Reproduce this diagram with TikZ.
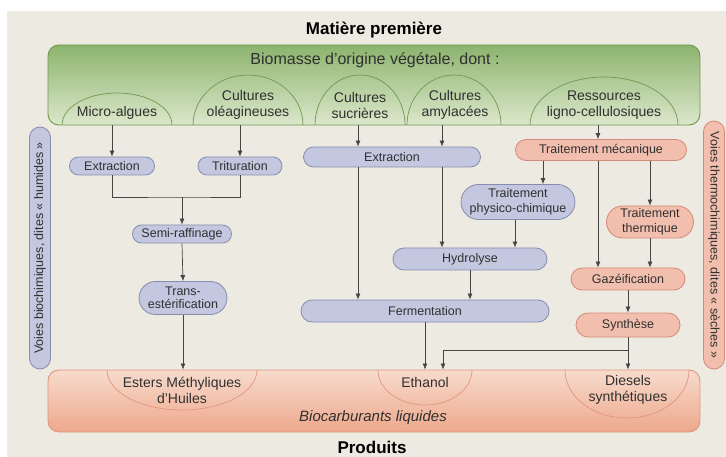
\documentclass[tikz,border=0pt]{standalone}
\usepackage{fontspec}
\setmainfont{Liberation Sans}
\usetikzlibrary{shapes.misc,arrows.meta}
\definecolor{bgc}{HTML}{EDEAE1}
\definecolor{gtop}{HTML}{8CB46E}
\definecolor{gbot}{HTML}{DCE7CB}
\definecolor{gline}{HTML}{6E9A4E}
\definecolor{ptop}{HTML}{F7DBCC}
\definecolor{pbot}{HTML}{EEA88C}
\definecolor{pline}{HTML}{E0967C}
\definecolor{lavf}{HTML}{C3C7DF}
\definecolor{lavd}{HTML}{868CAE}
\definecolor{salf}{HTML}{F2BFAE}
\definecolor{sald}{HTML}{D48A78}
\definecolor{txt}{HTML}{303030}
\definecolor{arrc}{HTML}{454545}
\tikzset{
 lav/.style={rounded rectangle, draw=lavd, fill=lavf, line width=0.8pt, text=txt,
   font=\fontsize{12.5}{14}\selectfont, align=center, inner sep=1pt},
 sal/.style={lav, draw=sald, fill=salf},
 arr/.style={draw=arrc, line width=0.7pt, -{Latex[length=6pt,width=5pt]}},
 ln/.style={draw=arrc, line width=0.7pt},
 domeg/.style={draw=gline, line width=0.7pt},
 domep/.style={draw=pline, line width=0.7pt},
 dlab/.style={text=txt, font=\fontsize{14}{16}\selectfont, align=center, inner sep=0pt},
 sidepill/.style={rounded rectangle, line width=0.8pt, text=txt, inner sep=1pt,
   font=\fontsize{12.5}{14}\selectfont, minimum height=21pt},
}
\begin{document}
\begin{tikzpicture}[x=1pt,y=-1pt]
\useasboundingbox (0,0) rectangle (726,457);
\fill[white] (0,0) rectangle (726,457);
\fill[bgc] (7,11) rectangle (726,457);

% titles
\node[font=\fontsize{17}{19}\selectfont\bfseries] (title) at (374,30) {Matière première};
\node[font=\fontsize{17}{19}\selectfont\bfseries] (produits) at (372,447) {Produits};

% green box
\node[draw=gline, line width=0.9pt, rounded corners=11pt, top color=gtop, bottom color=gbot,
      minimum width=652pt, minimum height=80pt, inner sep=0pt] (bio) at (374,85) {};
\node[text=txt, font=\fontsize{16}{18}\selectfont] (biolab) at (375,60) {Biomasse d'origine végétale, dont :};

\draw[domeg] (62,125) arc[start angle=180, end angle=360, x radius=55, y radius=32];
\draw[domeg] (193,125) arc[start angle=180, end angle=360, x radius=55, y radius=50];
\draw[domeg] (315,125) arc[start angle=180, end angle=360, x radius=45, y radius=50];
\draw[domeg] (407,125) arc[start angle=180, end angle=360, x radius=47, y radius=50];
\draw[domeg] (530,125) arc[start angle=180, end angle=360, x radius=74, y radius=48];

\node[dlab] (ma) at (117,113) {Micro-algues};
\node[dlab] (ol) at (248,105) {Cultures\\oléagineuses};
\node[dlab] (su) at (360,105) {Cultures\\sucrières};
\node[dlab] (am) at (455,105) {Cultures\\amylacées};
\node[dlab] (lc) at (604,105) {Ressources\\ligno-cellulosiques};

% product box
\node[draw=pline, line width=0.9pt, rounded corners=11pt, top color=ptop, bottom color=pbot,
      minimum width=652pt, minimum height=62pt, inner sep=0pt] (prod) at (374,401) {};
\draw[domep] (107,370) arc[start angle=180, end angle=0, x radius=75, y radius=40];
\draw[domep] (378,370) arc[start angle=180, end angle=0, x radius=47, y radius=35];
\draw[domep] (565,370) arc[start angle=180, end angle=0, x radius=62, y radius=48];
\node[dlab] (es) at (182,390) {Esters Méthyliques\\d'Huiles};
\node[dlab] (eth) at (425,382) {Ethanol};
\node[dlab] (die) at (628,390) {Diesels\\synthétiques};
\node[text=txt, font=\fontsize{15}{17}\selectfont\itshape] (bcl) at (373,418) {Biocarburants liquides};

% side pills
\node[sidepill, rotate=90, draw=lavd, fill=lavf, minimum width=244pt] (vbio) at (40,248)
  {Voies biochimiques, dites «~humides~»};
\node[sidepill, rotate=-90, draw=sald, fill=salf, minimum width=250pt] (vthe) at (714,245)
  {Voies thermochimiques, dites «~sèches~»};

% process nodes
\node[lav, minimum width=87pt, minimum height=18pt] (ex1) at (112,166) {Extraction};
\node[lav, minimum width=86pt, minimum height=18pt] (tri) at (240,166) {Trituration};
\node[lav, minimum width=101pt, minimum height=18pt] (semi) at (182,234) {Semi-raffinage};
\node[lav, minimum width=90pt, minimum height=33pt, font=\fontsize{12.5}{13}\selectfont] (trans) at (183,298) {Trans-\\estérification};
\node[lav, minimum width=179pt, minimum height=20pt] (ex2) at (392,157) {Extraction};
\node[lav, minimum width=156pt, minimum height=22pt] (hyd) at (470,259) {Hydrolyse};
\node[lav, minimum width=250pt, minimum height=22pt] (ferm) at (425,311) {Fermentation};
\node[lav, minimum width=116pt, minimum height=35pt, font=\fontsize{12.5}{15}\selectfont] (tpc) at (518,202) {Traitement\\physico-chimique};
\node[sal, minimum width=173pt, minimum height=21pt] (tm) at (601,150) {Traitement mécanique};
\node[sal, minimum width=89pt, minimum height=32pt, font=\fontsize{12.5}{15}\selectfont] (tt) at (650,222) {Traitement\\thermique};
\node[sal, minimum width=116pt, minimum height=22pt] (gaz) at (628,279) {Gazéification};
\node[sal, minimum width=106pt, minimum height=24pt] (syn) at (628,325) {Synthèse};

% junction coordinates
\coordinate (j1) at (182,197);
\coordinate (xsu) at (358,0);
\coordinate (xam) at (442,0);
\coordinate (xlc) at (598,0);
\coordinate (xtpc) at (543,0);
\coordinate (xhy) at (515,0);
\coordinate (j2) at (628,350);
\coordinate (xeth) at (443,0);

% connectors left column
\draw[arr] (bio.south -| ex1.north) -- (ex1.north);
\draw[arr] (bio.south -| tri.north) -- (tri.north);
\draw[ln] (ex1.south) |- (j1) -| (tri.south);
\draw[arr] (j1) -- (semi.north);
\draw[arr] (semi.south) -- (trans.north);
\draw[arr] (trans.south) -- (prod.north -| trans.south);

% middle column
\draw[arr] (bio.south -| xsu) -- (ex2.north -| xsu);
\draw[arr] (bio.south -| xam) -- (ex2.north -| xam);
\draw[arr] (ex2.south -| xsu) -- (ferm.north -| xsu);
\draw[arr] (ex2.south -| xam) -- (hyd.north -| xam);
\draw[arr] (hyd.south) -- (ferm.north -| hyd.south);
\draw[arr] (ferm.south) -- (prod.north -| ferm.south);

% right column
\draw[arr] (bio.south -| xlc) -- (tm.north -| xlc);
\draw[arr] (tm.south -| xtpc) -- (tpc.north -| xtpc);
\draw[arr] (tpc.south -| xhy) -- (hyd.north -| xhy);
\draw[arr] (tm.south -| xlc) -- (gaz.north -| xlc);
\draw[arr] (tm.south -| tt.north) -- (tt.north);
\draw[arr] (tt.south) -- (gaz.north -| tt.south);
\draw[arr] (gaz.south) -- (syn.north);
\draw[arr] (syn.south) -- (prod.north -| syn.south);
\draw[arr] (j2) -| (prod.north -| xeth);
\end{tikzpicture}
\end{document}
